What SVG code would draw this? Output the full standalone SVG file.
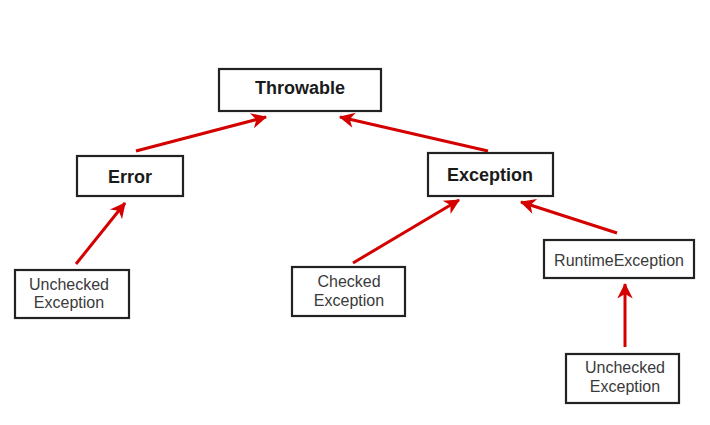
<svg xmlns="http://www.w3.org/2000/svg" width="710" height="425" viewBox="0 0 710 425">
<defs>
<style>
.box{fill:#fff;stroke:#222;stroke-width:2.2}
.b{font-family:"Liberation Sans",Arial,sans-serif;font-weight:bold;font-size:18px;fill:#1a1a1a;text-anchor:middle}
.r{font-family:"Liberation Sans",Arial,sans-serif;font-size:16px;fill:#3a3a3a;text-anchor:middle}
.e{stroke:#d40000;stroke-width:3;fill:none;marker-end:url(#ah)}
</style>
<marker id="ah" markerUnits="userSpaceOnUse" markerWidth="20" markerHeight="20" viewBox="-16 -8 18 16" refX="0" refY="0" orient="auto">
<path d="M1,0 L-13,-7 L-9,0 L-13,7 Z" fill="#d40000"/>
</marker>
</defs>
<rect width="710" height="425" fill="#fff"/>
<g id="connectors">
<line class="e" x1="136" y1="151" x2="266" y2="117"/>
<line class="e" x1="488" y1="151" x2="340" y2="117"/>
<line class="e" x1="76" y1="264" x2="125" y2="203"/>
<line class="e" x1="353" y1="263" x2="459" y2="200"/>
<line class="e" x1="617" y1="233" x2="521" y2="202"/>
<line class="e" x1="625" y1="347" x2="625" y2="284"/>
</g>
<g id="throwable">
<rect class="box" x="219" y="69" width="162" height="42"/>
<text class="b" x="300" y="94">Throwable</text>
</g>
<g id="error">
<rect class="box" x="77" y="156" width="106" height="40"/>
<text class="b" x="130" y="183">Error</text>
</g>
<g id="exception">
<rect class="box" x="428" y="153" width="125" height="43"/>
<text class="b" x="490" y="181">Exception</text>
</g>
<g id="runtimeexception">
<rect class="box" x="544" y="240" width="150" height="38"/>
<text class="r" x="619" y="266">RuntimeException</text>
</g>
<g id="unchecked1">
<rect class="box" x="15" y="270" width="114" height="48"/>
<text class="r" x="69" y="290">Unchecked</text>
<text class="r" x="69" y="308">Exception</text>
</g>
<g id="checked">
<rect class="box" x="292" y="267" width="113" height="49"/>
<text class="r" x="349" y="287">Checked</text>
<text class="r" x="349" y="306">Exception</text>
</g>
<g id="unchecked2">
<rect class="box" x="566" y="354" width="113" height="49"/>
<text class="r" x="625" y="373">Unchecked</text>
<text class="r" x="625" y="392">Exception</text>
</g>
</svg>
